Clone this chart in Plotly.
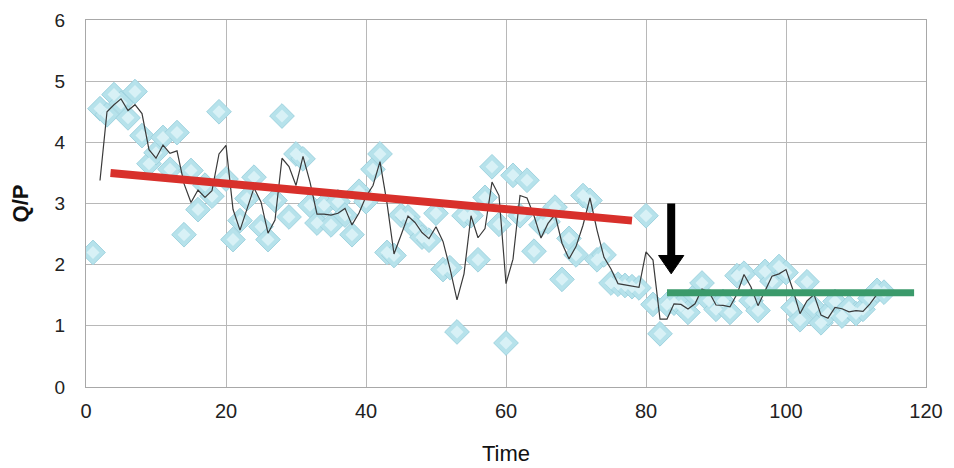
import plotly.graph_objects as go
import pandas as pd

# ---- data ----
time = list(range(1, 115))
qp = [2.2, 4.55, 4.45, 4.78, 4.64, 4.4, 4.83, 4.11, 3.65, 3.83,
      4.08, 3.56, 4.16, 2.49, 3.54, 2.9, 3.3, 3.12, 4.5, 3.4,
      2.41, 2.72, 3.08, 3.43, 2.62, 2.41, 3.05, 4.43, 2.78, 3.81,
      3.73, 2.97, 2.68, 2.97, 2.65, 3.03, 2.81, 2.49, 3.2, 3.03,
      3.56, 3.81, 2.2, 2.15, 2.81, 2.78, 2.6, 2.45, 2.4, 2.84,
      1.92, 1.95, 0.9, 2.8, 2.8, 2.08, 3.1, 3.6, 2.66, 0.72,
      3.46, 2.8, 3.38, 2.22, 2.65, 2.7, 2.94, 1.76, 2.43, 2.16,
      3.13, 3.05, 2.08, 2.16, 1.7, 1.68, 1.66, 1.64, 1.62, 2.8,
      1.35, 0.87, 1.35, 1.37, 1.33, 1.22, 1.5, 1.7, 1.41, 1.27,
      1.4, 1.22, 1.82, 1.86, 1.41, 1.25, 1.89, 1.73, 1.97, 1.87,
      1.3, 1.1, 1.72, 1.3, 1.05, 1.2, 1.4, 1.16, 1.3, 1.2,
      1.27, 1.45, 1.58, 1.55]

# 2-period moving average trendline
ma2 = pd.Series(qp).rolling(2).mean().tolist()

red_x = [3.5, 78]
red_y = [3.5, 2.72]
green_x = [83, 118.3]
green_y = [1.54, 1.54]
arrow_x = 83.6
arrow_from = 3.0
arrow_to = 1.85

x_ticks = [0, 20, 40, 60, 80, 100, 120]
y_ticks = [0, 1, 2, 3, 4, 5, 6]

fig = go.Figure()

fig.add_trace(go.Scatter(
    x=time, y=qp, mode="markers",
    marker=dict(symbol="diamond", size=19, color="#b6e2eb",
                line=dict(color="#9fd3df", width=1)),
    showlegend=False, hoverinfo="skip"))
# highlight layer for bevel look
fig.add_trace(go.Scatter(
    x=time, y=qp, mode="markers",
    marker=dict(symbol="diamond", size=10, color="#d8f1f6",
                line=dict(width=0)),
    showlegend=False, hoverinfo="skip"))

fig.add_trace(go.Scatter(
    x=time, y=ma2, mode="lines",
    line=dict(color="#3a3a3a", width=1.2),
    showlegend=False, hoverinfo="skip"))

fig.add_trace(go.Scatter(
    x=red_x, y=red_y, mode="lines",
    line=dict(color="#d8302b", width=8),
    showlegend=False, hoverinfo="skip"))

fig.add_trace(go.Scatter(
    x=green_x, y=green_y, mode="lines",
    line=dict(color="#3b9a6b", width=7),
    showlegend=False, hoverinfo="skip"))

# arrow: shaft + head
head_half_w = 1.8   # in x units
head_h = 0.3        # in y units
fig.add_shape(type="line", xref="x", yref="y",
              x0=arrow_x, x1=arrow_x, y0=arrow_from, y1=arrow_to + head_h * 0.5,
              line=dict(color="#000000", width=8))
fig.add_shape(type="path", xref="x", yref="y",
              path=(f"M {arrow_x - head_half_w} {arrow_to + head_h} "
                    f"L {arrow_x + head_half_w} {arrow_to + head_h} "
                    f"L {arrow_x} {arrow_to} Z"),
              fillcolor="#000000", line=dict(color="#000000", width=1))

fig.update_xaxes(
    range=[0, 120], tickvals=x_ticks, ticktext=[str(v) for v in x_ticks],
    showgrid=True, gridcolor="#b8b8b8", gridwidth=1,
    showline=True, linecolor="#a8a8a8", linewidth=1, mirror=True,
    zeroline=False, ticks="", automargin=False, ticklabelstandoff=6,
    ticklabeloverflow="allow",
    tickfont=dict(family="Liberation Sans", size=20, color="#222"),
    title=dict(text="Time", font=dict(family="Liberation Sans Narrow, Liberation Sans", size=22, color="#111"), standoff=24))
fig.update_yaxes(
    range=[0, 6], tickvals=y_ticks,
    showgrid=True, gridcolor="#b8b8b8", gridwidth=1,
    showline=True, linecolor="#a8a8a8", linewidth=1, mirror=True,
    zeroline=False, ticks="", automargin=False, ticklabelstandoff=16,
    ticklabeloverflow="allow",
    tickfont=dict(family="Liberation Sans", size=19, color="#222"),
    title=dict(text="<b>Q/P</b>", font=dict(family="Liberation Sans", size=22, color="#111"), standoff=22))

fig.update_layout(
    width=946, height=460,
    margin=dict(l=78, r=28, t=12, b=81),
    paper_bgcolor="white", plot_bgcolor="white")

fig.write_html("out.html")
